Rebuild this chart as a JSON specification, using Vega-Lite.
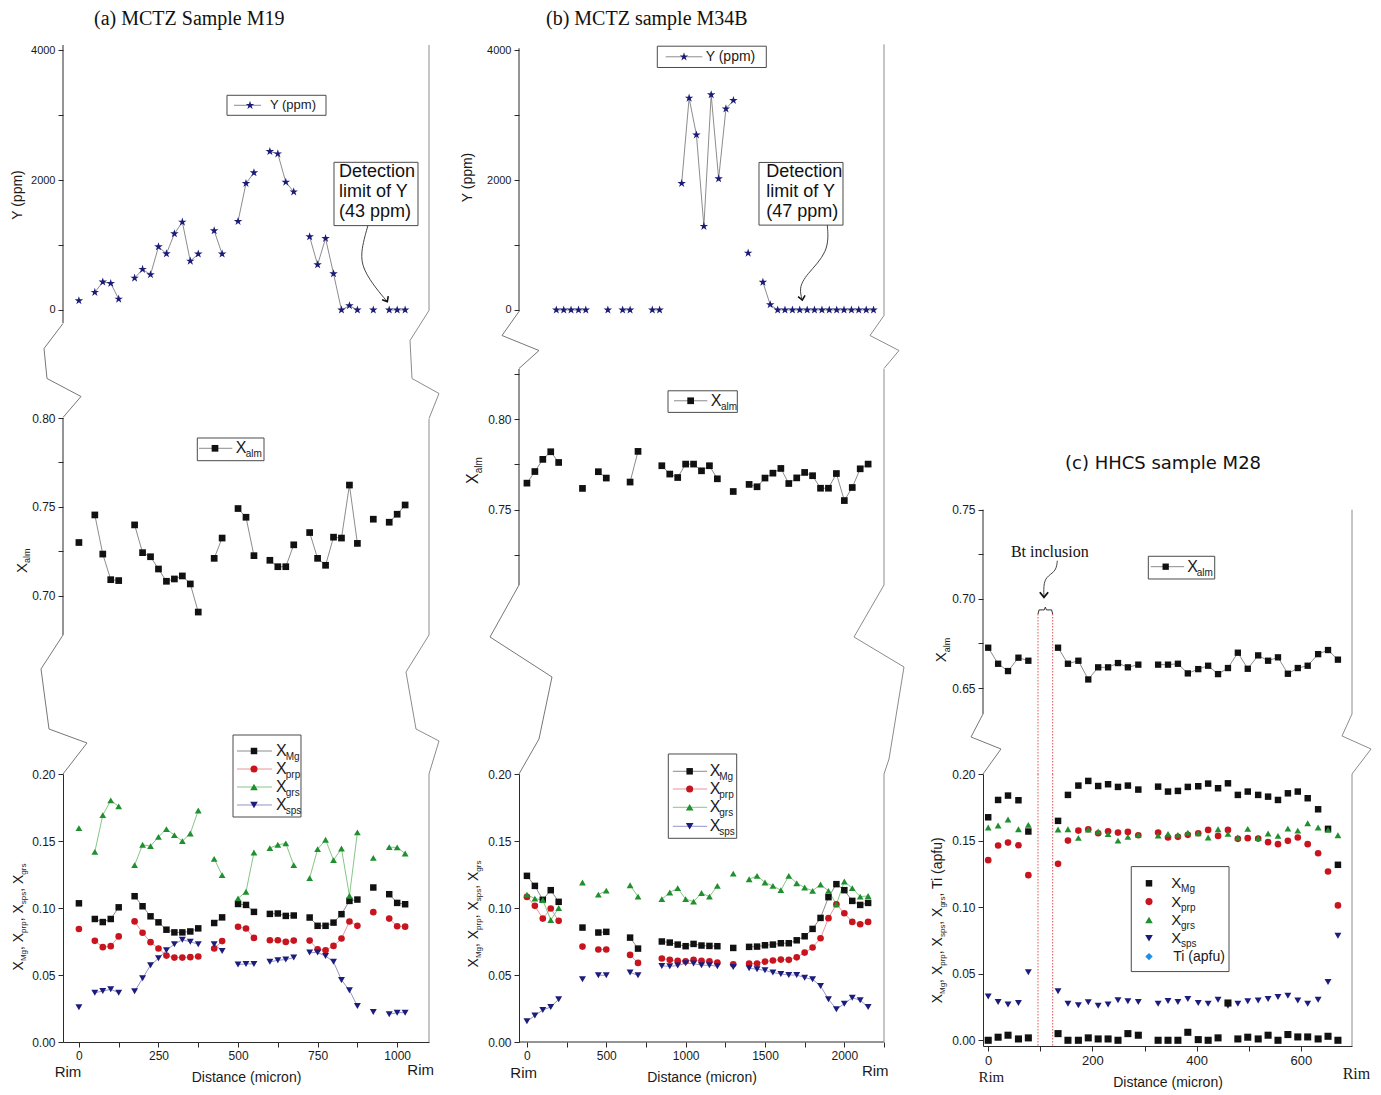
{
"$schema": "https://vega.github.io/schema/vega-lite/v6.json",
"background": "white",
"padding": {"left": 10, "top": 8, "right": 5, "bottom": 5},
"config": {
 "view": {"stroke": null},
 "font": "Liberation Sans",
 "axis": {"grid": false, "domainColor": "#2b2b2b", "tickColor": "#2b2b2b", "domainWidth": 1, "tickWidth": 1, "tickSize": 5, "labelFont": "Liberation Sans", "labelFontSize": 12, "labelColor": "#1a1a1a", "labelPadding": 3, "labelFlush": false, "labelOverlap": false, "titleFont": "Liberation Sans", "titleFontSize": 14, "titleFontWeight": "normal", "titleColor": "#1a1a1a"},
 "title": {"color": "#111111", "fontWeight": "normal"}
},
"datasets": {
 "one": [{}],
 "aY": [{"d":0,"Y":144},{"d":25,"Y":null},{"d":50,"Y":272},{"d":75,"Y":431},{"d":100,"Y":410},{"d":125,"Y":169},{"d":150,"Y":null},{"d":175,"Y":492},{"d":200,"Y":626},{"d":225,"Y":544},{"d":250,"Y":974},{"d":275,"Y":867},{"d":300,"Y":1174},{"d":325,"Y":1354},{"d":350,"Y":754},{"d":375,"Y":862},{"d":400,"Y":null},{"d":425,"Y":1220},{"d":450,"Y":862},{"d":475,"Y":null},{"d":500,"Y":1364},{"d":525,"Y":1949},{"d":550,"Y":2113},{"d":575,"Y":null},{"d":600,"Y":2441},{"d":625,"Y":2405},{"d":650,"Y":1969},{"d":675,"Y":1820},{"d":700,"Y":null},{"d":725,"Y":1128},{"d":750,"Y":697},{"d":775,"Y":1103},{"d":800,"Y":559},{"d":825,"Y":0},{"d":850,"Y":67},{"d":875,"Y":0},{"d":900,"Y":null},{"d":925,"Y":0},{"d":950,"Y":null},{"d":975,"Y":0},{"d":1000,"Y":0},{"d":1025,"Y":0}],
 "aX": [
  {"d":0,"alm":0.730,"Mg":0.1035,"prp":0.0843,"grs":0.1596,"sps":0.0260},
  {"d":25,"alm":null,"Mg":null,"prp":null,"grs":null,"sps":null},
  {"d":50,"alm":0.7455,"Mg":0.0918,"prp":0.0755,"grs":0.1419,"sps":0.0368},
  {"d":75,"alm":0.7235,"Mg":0.0895,"prp":0.0708,"grs":0.1693,"sps":0.0380},
  {"d":100,"alm":0.7091,"Mg":0.0918,"prp":0.0715,"grs":0.1803,"sps":0.0393},
  {"d":125,"alm":0.7086,"Mg":0.1005,"prp":0.0788,"grs":0.1758,"sps":0.0368},
  {"d":150,"alm":null,"Mg":null,"prp":null,"grs":null,"sps":null},
  {"d":175,"alm":0.7399,"Mg":0.1088,"prp":0.0900,"grs":0.1320,"sps":0.0378},
  {"d":200,"alm":0.7243,"Mg":0.1013,"prp":0.0815,"grs":0.1472,"sps":0.0475},
  {"d":225,"alm":0.7220,"Mg":0.0938,"prp":0.0745,"grs":0.1462,"sps":0.0573},
  {"d":250,"alm":0.7151,"Mg":0.0893,"prp":0.0698,"grs":0.1531,"sps":0.0625},
  {"d":275,"alm":0.7082,"Mg":0.0838,"prp":0.0645,"grs":0.1589,"sps":0.0685},
  {"d":300,"alm":0.7095,"Mg":0.0818,"prp":0.0630,"grs":0.1544,"sps":0.0730},
  {"d":325,"alm":0.7112,"Mg":0.0818,"prp":0.0630,"grs":0.1499,"sps":0.0763},
  {"d":350,"alm":0.7067,"Mg":0.0825,"prp":0.0633,"grs":0.1556,"sps":0.0748},
  {"d":375,"alm":0.6909,"Mg":0.0848,"prp":0.0638,"grs":0.1728,"sps":0.0730},
  {"d":400,"alm":null,"Mg":null,"prp":null,"grs":null,"sps":null},
  {"d":425,"alm":0.7211,"Mg":0.0888,"prp":0.0698,"grs":0.1367,"sps":0.0730},
  {"d":450,"alm":0.7325,"Mg":0.0930,"prp":0.0753,"grs":0.1245,"sps":0.0680},
  {"d":475,"alm":null,"Mg":null,"prp":null,"grs":null,"sps":null},
  {"d":500,"alm":0.7491,"Mg":0.1030,"prp":0.0860,"grs":0.1072,"sps":0.0578},
  {"d":525,"alm":0.7442,"Mg":0.1023,"prp":0.0847,"grs":0.1121,"sps":0.0583},
  {"d":550,"alm":0.7226,"Mg":0.0971,"prp":0.0777,"grs":0.1414,"sps":0.0583},
  {"d":575,"alm":null,"Mg":null,"prp":null,"grs":null,"sps":null},
  {"d":600,"alm":0.7200,"Mg":0.0956,"prp":0.0759,"grs":0.1447,"sps":0.0598},
  {"d":625,"alm":0.7164,"Mg":0.0959,"prp":0.0759,"grs":0.1472,"sps":0.0610},
  {"d":650,"alm":0.7164,"Mg":0.0941,"prp":0.0747,"grs":0.1482,"sps":0.0615},
  {"d":675,"alm":0.7287,"Mg":0.0944,"prp":0.0757,"grs":0.1320,"sps":0.0630},
  {"d":700,"alm":null,"Mg":null,"prp":null,"grs":null,"sps":null},
  {"d":725,"alm":0.7356,"Mg":0.0929,"prp":0.0757,"grs":0.1223,"sps":0.0667},
  {"d":750,"alm":0.7211,"Mg":0.0867,"prp":0.0692,"grs":0.1439,"sps":0.0667},
  {"d":775,"alm":0.7172,"Mg":0.0867,"prp":0.0685,"grs":0.1509,"sps":0.0642},
  {"d":800,"alm":0.7330,"Mg":0.0891,"prp":0.0717,"grs":0.1357,"sps":0.0598},
  {"d":825,"alm":0.7325,"Mg":0.0954,"prp":0.0772,"grs":0.1444,"sps":0.0463},
  {"d":850,"alm":0.7623,"Mg":0.1053,"prp":0.0899,"grs":0.1091,"sps":0.0386},
  {"d":875,"alm":0.7295,"Mg":0.1063,"prp":0.0867,"grs":0.1564,"sps":0.0269},
  {"d":900,"alm":null,"Mg":null,"prp":null,"grs":null,"sps":null},
  {"d":925,"alm":0.7431,"Mg":0.1153,"prp":0.0969,"grs":0.1374,"sps":0.0224},
  {"d":950,"alm":null,"Mg":null,"prp":null,"grs":null,"sps":null},
  {"d":975,"alm":0.7414,"Mg":0.1103,"prp":0.0921,"grs":0.1454,"sps":0.0207},
  {"d":1000,"alm":0.7459,"Mg":0.1038,"prp":0.0864,"grs":0.1452,"sps":0.0219},
  {"d":1025,"alm":0.7511,"Mg":0.1028,"prp":0.0861,"grs":0.1407,"sps":0.0219}
 ],
 "bY": [{"d":185,"Y":0},{"d":232,"Y":0},{"d":278,"Y":0},{"d":325,"Y":0},{"d":371,"Y":0},{"d":417,"Y":null},{"d":464,"Y":null},{"d":510,"Y":0},{"d":557,"Y":null},{"d":603,"Y":0},{"d":650,"Y":0},{"d":696,"Y":null},{"d":743,"Y":null},{"d":790,"Y":0},{"d":836,"Y":0},{"d":882,"Y":null},{"d":929,"Y":null},{"d":975,"Y":1949},{"d":1022,"Y":3263},{"d":1068,"Y":2696},{"d":1115,"Y":1289},{"d":1161,"Y":3315},{"d":1208,"Y":2021},{"d":1254,"Y":3098},{"d":1301,"Y":3227},{"d":1347,"Y":null},{"d":1394,"Y":876},{"d":1440,"Y":null},{"d":1487,"Y":428},{"d":1533,"Y":82},{"d":1580,"Y":0},{"d":1626,"Y":0},{"d":1673,"Y":0},{"d":1719,"Y":0},{"d":1766,"Y":0},{"d":1812,"Y":0},{"d":1859,"Y":0},{"d":1905,"Y":0},{"d":1952,"Y":0},{"d":1998,"Y":0},{"d":2045,"Y":0},{"d":2091,"Y":0},{"d":2138,"Y":0},{"d":2184,"Y":0}],
 "bX": [
  {"d":0,"alm":0.7647,"Mg":0.1240,"prp":0.1083,"grs":0.1100,"sps":0.0154},
  {"d":50,"alm":0.7711,"Mg":0.1165,"prp":0.1016,"grs":0.1070,"sps":0.0197},
  {"d":100,"alm":0.7778,"Mg":0.1061,"prp":0.0921,"grs":0.1060,"sps":0.0239},
  {"d":150,"alm":0.7820,"Mg":0.1133,"prp":0.0996,"grs":0.0910,"sps":0.0261},
  {"d":200,"alm":0.7761,"Mg":0.1046,"prp":0.0904,"grs":0.1000,"sps":0.0319},
  {"d":250,"alm":null,"Mg":null,"prp":null,"grs":null,"sps":null},
  {"d":300,"alm":null,"Mg":null,"prp":null,"grs":null,"sps":null},
  {"d":350,"alm":0.7618,"Mg":0.0854,"prp":0.0712,"grs":0.1190,"sps":0.0468},
  {"d":400,"alm":null,"Mg":null,"prp":null,"grs":null,"sps":null},
  {"d":450,"alm":0.7710,"Mg":0.0817,"prp":0.0690,"grs":0.1100,"sps":0.0498},
  {"d":500,"alm":0.7675,"Mg":0.0822,"prp":0.0690,"grs":0.1130,"sps":0.0498},
  {"d":550,"alm":null,"Mg":null,"prp":null,"grs":null,"sps":null},
  {"d":600,"alm":null,"Mg":null,"prp":null,"grs":null,"sps":null},
  {"d":650,"alm":0.7653,"Mg":0.0779,"prp":0.0650,"grs":0.1170,"sps":0.0518},
  {"d":700,"alm":0.7822,"Mg":0.0697,"prp":0.0590,"grs":0.1085,"sps":0.0498},
  {"d":750,"alm":null,"Mg":null,"prp":null,"grs":null,"sps":null},
  {"d":800,"alm":null,"Mg":null,"prp":null,"grs":null,"sps":null},
  {"d":850,"alm":0.7743,"Mg":0.0750,"prp":0.0623,"grs":0.1066,"sps":0.0568},
  {"d":900,"alm":0.7697,"Mg":0.0742,"prp":0.0613,"grs":0.1116,"sps":0.0565},
  {"d":950,"alm":0.7678,"Mg":0.0727,"prp":0.0605,"grs":0.1148,"sps":0.0570},
  {"d":1000,"alm":0.7752,"Mg":0.0715,"prp":0.0603,"grs":0.1066,"sps":0.0588},
  {"d":1050,"alm":0.7752,"Mg":0.0732,"prp":0.0613,"grs":0.1048,"sps":0.0585},
  {"d":1100,"alm":0.7715,"Mg":0.0720,"prp":0.0605,"grs":0.1112,"sps":0.0573},
  {"d":1150,"alm":0.7743,"Mg":0.0717,"prp":0.0603,"grs":0.1085,"sps":0.0573},
  {"d":1200,"alm":0.7671,"Mg":0.0715,"prp":0.0593,"grs":0.1165,"sps":0.0565},
  {"d":1250,"alm":null,"Mg":null,"prp":null,"grs":null,"sps":null},
  {"d":1300,"alm":0.7601,"Mg":0.0702,"prp":0.0580,"grs":0.1257,"sps":0.0560},
  {"d":1350,"alm":null,"Mg":null,"prp":null,"grs":null,"sps":null},
  {"d":1400,"alm":0.7640,"Mg":0.0710,"prp":0.0585,"grs":0.1215,"sps":0.0550},
  {"d":1450,"alm":0.7627,"Mg":0.0712,"prp":0.0585,"grs":0.1240,"sps":0.0543},
  {"d":1500,"alm":0.7675,"Mg":0.0722,"prp":0.0600,"grs":0.1190,"sps":0.0535},
  {"d":1550,"alm":0.7702,"Mg":0.0727,"prp":0.0608,"grs":0.1165,"sps":0.0518},
  {"d":1600,"alm":0.7728,"Mg":0.0737,"prp":0.0615,"grs":0.1133,"sps":0.0508},
  {"d":1650,"alm":0.7645,"Mg":0.0737,"prp":0.0613,"grs":0.1240,"sps":0.0500},
  {"d":1700,"alm":0.7676,"Mg":0.0759,"prp":0.0632,"grs":0.1185,"sps":0.0500},
  {"d":1750,"alm":0.7706,"Mg":0.0789,"prp":0.0667,"grs":0.1153,"sps":0.0480},
  {"d":1800,"alm":0.7688,"Mg":0.0844,"prp":0.0705,"grs":0.1128,"sps":0.0468},
  {"d":1850,"alm":0.7619,"Mg":0.0926,"prp":0.0774,"grs":0.1175,"sps":0.0418},
  {"d":1900,"alm":0.7619,"Mg":0.1081,"prp":0.0924,"grs":0.1128,"sps":0.0319},
  {"d":1950,"alm":0.7700,"Mg":0.1178,"prp":0.1028,"grs":0.1028,"sps":0.0244},
  {"d":2000,"alm":0.7551,"Mg":0.1133,"prp":0.0961,"grs":0.1198,"sps":0.0286},
  {"d":2050,"alm":0.7623,"Mg":0.1053,"prp":0.0896,"grs":0.1148,"sps":0.0331},
  {"d":2100,"alm":0.7726,"Mg":0.1023,"prp":0.0879,"grs":0.1085,"sps":0.0311},
  {"d":2150,"alm":0.7752,"Mg":0.1038,"prp":0.0896,"grs":0.1090,"sps":0.0261}
 ],
 "cX": [
  {"d":0,"alm":0.6726,"Mg":0.1675,"prp":0.1353,"grs":0.1598,"sps":0.0328,"Ti":0.0000},
  {"d":19,"alm":0.6636,"Mg":0.1805,"prp":0.1463,"grs":0.1613,"sps":0.0288,"Ti":0.0023},
  {"d":38,"alm":0.6595,"Mg":0.1838,"prp":0.1485,"grs":0.1658,"sps":0.0268,"Ti":0.0038},
  {"d":58,"alm":0.6670,"Mg":0.1803,"prp":0.1465,"grs":0.1585,"sps":0.0280,"Ti":0.0010},
  {"d":77,"alm":0.6653,"Mg":0.1568,"prp":0.1240,"grs":0.1618,"sps":0.0510,"Ti":0.0018},
  {"d":96,"alm":null,"Mg":null,"prp":null,"grs":null,"sps":null,"Ti":null},
  {"d":115,"alm":null,"Mg":null,"prp":null,"grs":null,"sps":null,"Ti":null},
  {"d":134,"alm":0.6726,"Mg":0.1648,"prp":0.1325,"grs":0.1583,"sps":0.0368,"Ti":0.0050},
  {"d":153,"alm":0.6636,"Mg":0.1843,"prp":0.1500,"grs":0.1585,"sps":0.0275,"Ti":0.0000},
  {"d":173,"alm":0.6653,"Mg":0.1913,"prp":0.1575,"grs":0.1520,"sps":0.0263,"Ti":0.0000},
  {"d":192,"alm":0.6548,"Mg":0.1948,"prp":0.1585,"grs":0.1583,"sps":0.0285,"Ti":0.0018},
  {"d":211,"alm":0.6616,"Mg":0.1910,"prp":0.1555,"grs":0.1568,"sps":0.0260,"Ti":0.0010},
  {"d":230,"alm":0.6616,"Mg":0.1923,"prp":0.1570,"grs":0.1548,"sps":0.0268,"Ti":0.0010},
  {"d":249,"alm":0.6640,"Mg":0.1903,"prp":0.1560,"grs":0.1500,"sps":0.0300,"Ti":0.0000},
  {"d":268,"alm":0.6616,"Mg":0.1913,"prp":0.1565,"grs":0.1528,"sps":0.0293,"Ti":0.0050},
  {"d":288,"alm":0.6631,"Mg":0.1883,"prp":0.1540,"grs":0.1543,"sps":0.0288,"Ti":0.0038},
  {"d":307,"alm":null,"Mg":null,"prp":null,"grs":null,"sps":null,"Ti":null},
  {"d":326,"alm":0.6631,"Mg":0.1905,"prp":0.1560,"grs":0.1538,"sps":0.0275,"Ti":0.0000},
  {"d":345,"alm":0.6631,"Mg":0.1868,"prp":0.1523,"grs":0.1550,"sps":0.0295,"Ti":0.0000},
  {"d":364,"alm":0.6636,"Mg":0.1873,"prp":0.1528,"grs":0.1543,"sps":0.0288,"Ti":0.0000},
  {"d":383,"alm":0.6582,"Mg":0.1903,"prp":0.1543,"grs":0.1560,"sps":0.0310,"Ti":0.0060},
  {"d":403,"alm":0.6606,"Mg":0.1908,"prp":0.1555,"grs":0.1555,"sps":0.0280,"Ti":0.0005},
  {"d":422,"alm":0.6625,"Mg":0.1928,"prp":0.1580,"grs":0.1523,"sps":0.0275,"Ti":0.0000},
  {"d":441,"alm":0.6578,"Mg":0.1893,"prp":0.1535,"grs":0.1585,"sps":0.0305,"Ti":0.0018},
  {"d":460,"alm":0.6612,"Mg":0.1930,"prp":0.1580,"grs":0.1550,"sps":0.0260,"Ti":0.0280},
  {"d":479,"alm":0.6698,"Mg":0.1843,"prp":0.1513,"grs":0.1523,"sps":0.0275,"Ti":0.0010},
  {"d":498,"alm":0.6608,"Mg":0.1868,"prp":0.1518,"grs":0.1588,"sps":0.0293,"Ti":0.0023},
  {"d":518,"alm":0.6683,"Mg":0.1843,"prp":0.1515,"grs":0.1518,"sps":0.0298,"Ti":0.0010},
  {"d":537,"alm":0.6653,"Mg":0.1830,"prp":0.1488,"grs":0.1553,"sps":0.0310,"Ti":0.0038},
  {"d":556,"alm":0.6672,"Mg":0.1805,"prp":0.1473,"grs":0.1535,"sps":0.0325,"Ti":0.0000},
  {"d":575,"alm":0.6580,"Mg":0.1855,"prp":0.1498,"grs":0.1590,"sps":0.0335,"Ti":0.0043},
  {"d":594,"alm":0.6612,"Mg":0.1868,"prp":0.1523,"grs":0.1575,"sps":0.0298,"Ti":0.0025},
  {"d":613,"alm":0.6625,"Mg":0.1818,"prp":0.1473,"grs":0.1630,"sps":0.0275,"Ti":0.0025},
  {"d":633,"alm":0.6690,"Mg":0.1735,"prp":0.1405,"grs":0.1598,"sps":0.0305,"Ti":0.0010},
  {"d":652,"alm":0.6713,"Mg":0.1588,"prp":0.1268,"grs":0.1580,"sps":0.0438,"Ti":0.0030},
  {"d":671,"alm":0.6659,"Mg":0.1318,"prp":0.1013,"grs":0.1540,"sps":0.0785,"Ti":0.0000}
 ]
},
"concat": [
 {"width": 366, "height": 283.5,
  "title": {"text": "(a) MCTZ Sample M19", "font": "Liberation Serif", "fontSize": 20, "fontWeight": "normal", "anchor": "start", "frame": "group", "dx": 31, "offset": 15},
  "layer": [
   {"data": {"name": "one"}, "mark": {"type": "rule", "color": "#2b2b2b", "strokeWidth": 1}, "encoding": {"x": {"datum": -50, "axis": null}, "y": {"datum": -200}, "y2": {"datum": 4080}}},
   {"data": {"name": "one"}, "mark": {"type": "rule", "color": "#8c8c8c", "strokeWidth": 1}, "encoding": {"x": {"datum": 1100, "axis": null}, "y": {"datum": -8}, "y2": {"datum": 4080}}},
   {"data": {"values": [{"x": -50, "y": -208, "o": 0}, {"x": -109.7, "y": -593, "o": 1}, {"x": -100.3, "y": -1055, "o": 2}, {"x": 6.6, "y": -1332, "o": 3}, {"x": -50, "y": -1655, "o": 4}]}, "mark": {"type": "line", "color": "#777777", "strokeWidth": 1}, "encoding": {"x": {"field": "x", "type": "quantitative", "axis": null}, "y": {"field": "y", "type": "quantitative", "title": null}, "order": {"field": "o"}}},
   {"data": {"values": [{"x": 1100, "y": -8, "o": 0}, {"x": 1040.3, "y": -470, "o": 1}, {"x": 1046.6, "y": -1055, "o": 2}, {"x": 1131.4, "y": -1286, "o": 3}, {"x": 1100, "y": -1671, "o": 4}]}, "mark": {"type": "line", "color": "#8c8c8c", "strokeWidth": 1}, "encoding": {"x": {"field": "x", "type": "quantitative", "axis": null}, "y": {"field": "y", "type": "quantitative", "title": null}, "order": {"field": "o"}}},
   {"data": {"name": "aY"}, "mark": {"type": "line", "color": "#6e6e6e", "strokeWidth": 0.8, "invalid": "break-paths-filter-domains"},
    "encoding": {"x": {"field": "d", "type": "quantitative", "scale": {"domain": [-50, 1100], "nice": false, "zero": false}, "axis": null},
     "y": {"field": "Y", "type": "quantitative", "title": null, "scale": {"domain": [-285, 4080], "nice": false, "zero": false},
      "axis": {"title": null, "domain": false, "values": [0, 1000, 2000, 3000, 4000], "format": "d", "labelExpr": "datum.value % 2000 === 0 ? datum.label : ''", "labelFontSize": 11}}}},
   {"data": {"name": "aY"}, "mark": {"type": "point", "shape": "M0,-1L0.2245,-0.309L0.951,-0.309L0.363,0.118L0.588,0.809L0,0.382L-0.588,0.809L-0.363,0.118L-0.951,-0.309L-0.2245,-0.309Z", "filled": true, "color": "#1b1b78", "size": 80, "opacity": 1},
    "encoding": {"x": {"field": "d", "type": "quantitative", "axis": null}, "y": {"field": "Y", "type": "quantitative", "title": null}}},
   {"data": {"name": "one"}, "mark": {"type": "text", "text": "Y (ppm)", "angle": 270, "align": "center", "baseline": "alphabetic", "fontSize": 14, "dy": -41.5, "color": "#1a1a1a"}, "encoding": {"x": {"datum": -50, "axis": null}, "y": {"datum": 1770}}},
   {"data": {"name": "one"}, "mark": {"type": "rect", "filled": false, "color": "#4a4a4a", "strokeWidth": 1}, "encoding": {"x": {"datum": 465.3, "axis": null}, "x2": {"datum": 776.4}, "y": {"datum": 3305.6}, "y2": {"datum": 2997.6}}},
   {"data": {"name": "one"}, "mark": {"type": "rule", "color": "#6e6e6e", "strokeWidth": 0.8}, "encoding": {"x": {"datum": 487.3, "axis": null}, "x2": {"datum": 572.1}, "y": {"datum": 3151.6}}},
   {"data": {"name": "one"}, "mark": {"type": "point", "shape": "M0,-1L0.2245,-0.309L0.951,-0.309L0.363,0.118L0.588,0.809L0,0.382L-0.588,0.809L-0.363,0.118L-0.951,-0.309L-0.2245,-0.309Z", "filled": true, "color": "#1b1b78", "size": 80, "opacity": 1}, "encoding": {"x": {"datum": 537.6, "axis": null}, "y": {"datum": 3151.6}}},
   {"data": {"name": "one"}, "mark": {"type": "text", "text": "Y (ppm)", "align": "left", "baseline": "middle", "fontSize": 13, "color": "#1a1a1a"}, "encoding": {"x": {"datum": 600.4, "axis": null}, "y": {"datum": 3151.6}}},
   {"data": {"name": "one"}, "mark": {"type": "rect", "filled": false, "color": "#4a4a4a", "strokeWidth": 1}, "encoding": {"x": {"datum": 801.5, "axis": null}, "x2": {"datum": 1065.4}, "y": {"datum": 2274}, "y2": {"datum": 1299}}},
   {"data": {"name": "one"}, "mark": {"type": "text", "text": "Detection\nlimit of Y\n(43 ppm)", "lineBreak": "\n", "lineHeight": 20, "align": "left", "baseline": "top", "fontSize": 18, "color": "#111111"}, "encoding": {"x": {"datum": 817.2, "axis": null}, "y": {"datum": 2258.6}}},
   {"data": {"values": [{"x": 908, "y": 1299, "o": 0}, {"x": 884, "y": 880, "o": 1}, {"x": 893, "y": 620, "o": 2}, {"x": 935, "y": 320, "o": 3}, {"x": 969, "y": 129, "o": 4}]}, "mark": {"type": "line", "interpolate": "basis", "color": "#444444", "strokeWidth": 1}, "encoding": {"x": {"field": "x", "type": "quantitative", "axis": null}, "y": {"field": "y", "type": "quantitative", "title": null}, "order": {"field": "o"}}},
   {"data": {"name": "one"}, "mark": {"type": "point", "shape": "M-1,-1.2L0,0L1,-1.2", "filled": false, "color": "#111111", "strokeWidth": 1.6, "size": 50, "angle": -30, "opacity": 1}, "encoding": {"x": {"datum": 969, "axis": null}, "y": {"datum": 129}}}
  ]},
 {"width": 374, "height": 283.5,
  "title": {"text": "(b) MCTZ sample M34B", "font": "Liberation Serif", "fontSize": 20, "fontWeight": "normal", "anchor": "start", "frame": "group", "dx": 27, "offset": 15},
  "layer": [
   {"data": {"name": "one"}, "mark": {"type": "rule", "color": "#2b2b2b", "strokeWidth": 1}, "encoding": {"x": {"datum": -50, "axis": null}, "y": {"datum": -23}, "y2": {"datum": 4030}}},
   {"data": {"name": "one"}, "mark": {"type": "rule", "color": "#8c8c8c", "strokeWidth": 1}, "encoding": {"x": {"datum": 2250, "axis": null}, "y": {"datum": -85}, "y2": {"datum": 4090}}},
   {"data": {"values": [{"x": -50, "y": -23, "o": 0}, {"x": -157.1, "y": -393, "o": 1}, {"x": 76, "y": -624, "o": 2}, {"x": -50, "y": -901, "o": 3}]}, "mark": {"type": "line", "color": "#777777", "strokeWidth": 1}, "encoding": {"x": {"field": "x", "type": "quantitative", "axis": null}, "y": {"field": "y", "type": "quantitative", "title": null}, "order": {"field": "o"}}},
   {"data": {"values": [{"x": 2250, "y": -85, "o": 0}, {"x": 2161.8, "y": -393, "o": 1}, {"x": 2344.5, "y": -624, "o": 2}, {"x": 2250, "y": -901, "o": 3}]}, "mark": {"type": "line", "color": "#8c8c8c", "strokeWidth": 1}, "encoding": {"x": {"field": "x", "type": "quantitative", "axis": null}, "y": {"field": "y", "type": "quantitative", "title": null}, "order": {"field": "o"}}},
   {"data": {"name": "bY"}, "mark": {"type": "line", "color": "#6e6e6e", "strokeWidth": 0.8, "invalid": "break-paths-filter-domains"},
    "encoding": {"x": {"field": "d", "type": "quantitative", "scale": {"domain": [-50, 2306.7], "nice": false, "zero": false}, "axis": null},
     "y": {"field": "Y", "type": "quantitative", "title": null, "scale": {"domain": [-285, 4080], "nice": false, "zero": false},
      "axis": {"title": null, "domain": false, "values": [0, 1000, 2000, 3000, 4000], "format": "d", "labelExpr": "datum.value % 2000 === 0 ? datum.label : ''", "labelFontSize": 11}}}},
   {"data": {"name": "bY"}, "mark": {"type": "point", "shape": "M0,-1L0.2245,-0.309L0.951,-0.309L0.363,0.118L0.588,0.809L0,0.382L-0.588,0.809L-0.363,0.118L-0.951,-0.309L-0.2245,-0.309Z", "filled": true, "color": "#1b1b78", "size": 80, "opacity": 1},
    "encoding": {"x": {"field": "d", "type": "quantitative", "axis": null}, "y": {"field": "Y", "type": "quantitative", "title": null}}},
   {"data": {"name": "one"}, "mark": {"type": "text", "text": "Y (ppm)", "angle": 270, "align": "center", "baseline": "alphabetic", "fontSize": 14, "dy": -47, "color": "#1a1a1a"}, "encoding": {"x": {"datum": -50, "axis": null}, "y": {"datum": 2040}}},
   {"data": {"name": "one"}, "mark": {"type": "rect", "filled": false, "color": "#4a4a4a", "strokeWidth": 1}, "encoding": {"x": {"datum": 821.5, "axis": null}, "x2": {"datum": 1508.3}, "y": {"datum": 4061.5}, "y2": {"datum": 3733.7}}},
   {"data": {"name": "one"}, "mark": {"type": "rule", "color": "#6e6e6e", "strokeWidth": 0.8}, "encoding": {"x": {"datum": 874.4, "axis": null}, "x2": {"datum": 1105}, "y": {"datum": 3898.4}}},
   {"data": {"name": "one"}, "mark": {"type": "point", "shape": "M0,-1L0.2245,-0.309L0.951,-0.309L0.363,0.118L0.588,0.809L0,0.382L-0.588,0.809L-0.363,0.118L-0.951,-0.309L-0.2245,-0.309Z", "filled": true, "color": "#1b1b78", "size": 80, "opacity": 1}, "encoding": {"x": {"datum": 989.7, "axis": null}, "y": {"datum": 3898.4}}},
   {"data": {"name": "one"}, "mark": {"type": "text", "text": "Y (ppm)", "align": "left", "baseline": "middle", "fontSize": 14, "color": "#1a1a1a"}, "encoding": {"x": {"datum": 1126.5, "axis": null}, "y": {"datum": 3898.4}}},
   {"data": {"name": "one"}, "mark": {"type": "rect", "filled": false, "color": "#4a4a4a", "strokeWidth": 1}, "encoding": {"x": {"datum": 1462.3, "axis": null}, "x2": {"datum": 1991.6}, "y": {"datum": 2271.6}, "y2": {"datum": 1306.7}}},
   {"data": {"name": "one"}, "mark": {"type": "text", "text": "Detection\nlimit of Y\n(47 ppm)", "lineBreak": "\n", "lineHeight": 20, "align": "left", "baseline": "top", "fontSize": 18, "color": "#111111"}, "encoding": {"x": {"datum": 1508.3, "axis": null}, "y": {"datum": 2256}}},
   {"data": {"values": [{"x": 1892.7, "y": 1307, "o": 0}, {"x": 1905, "y": 897, "o": 1}, {"x": 1756.6, "y": 537, "o": 2}, {"x": 1714.4, "y": 333, "o": 3}, {"x": 1735.2, "y": 152, "o": 4}]}, "mark": {"type": "line", "interpolate": "basis", "color": "#444444", "strokeWidth": 1}, "encoding": {"x": {"field": "x", "type": "quantitative", "axis": null}, "y": {"field": "y", "type": "quantitative", "title": null}, "order": {"field": "o"}}},
   {"data": {"name": "one"}, "mark": {"type": "point", "shape": "M-1,-1.2L0,0L1,-1.2", "filled": false, "color": "#111111", "strokeWidth": 1.6, "size": 50, "angle": -10, "opacity": 1}, "encoding": {"x": {"datum": 1735.2, "axis": null}, "y": {"datum": 152}}}
  ]},
 {"width": 369, "height": 283.5, "data": {"name": "one"}, "mark": {"type": "text", "text": ""}, "encoding": {}},
 {"width": 366, "height": 365,
  "layer": [
   {"data": {"name": "one"}, "mark": {"type": "rule", "color": "#2b2b2b", "strokeWidth": 1}, "encoding": {"x": {"datum": -50, "axis": null}, "y": {"datum": 0.678}, "y2": {"datum": 0.8}}},
   {"data": {"name": "one"}, "mark": {"type": "rule", "color": "#8c8c8c", "strokeWidth": 1}, "encoding": {"x": {"datum": 1100, "axis": null}, "y": {"datum": 0.678}, "y2": {"datum": 0.7994}}},
   {"data": {"values": [{"x": -50, "y": 0.678, "o": 0}, {"x": -119.1, "y": 0.65889, "o": 1}, {"x": -94, "y": 0.62515, "o": 2}, {"x": 25.4, "y": 0.61728, "o": 3}, {"x": -50, "y": 0.59985, "o": 4}]}, "mark": {"type": "line", "color": "#777777", "strokeWidth": 1}, "encoding": {"x": {"field": "x", "type": "quantitative", "axis": null}, "y": {"field": "y", "type": "quantitative", "title": null}, "order": {"field": "o"}}},
   {"data": {"values": [{"x": 1100, "y": 0.678, "o": 0}, {"x": 1027.7, "y": 0.6572, "o": 1}, {"x": 1059.2, "y": 0.62515, "o": 2}, {"x": 1131.4, "y": 0.61841, "o": 3}, {"x": 1100, "y": 0.59985, "o": 4}]}, "mark": {"type": "line", "color": "#8c8c8c", "strokeWidth": 1}, "encoding": {"x": {"field": "x", "type": "quantitative", "axis": null}, "y": {"field": "y", "type": "quantitative", "title": null}, "order": {"field": "o"}}},
   {"data": {"name": "aX"}, "mark": {"type": "line", "color": "#6e6e6e", "strokeWidth": 0.8, "invalid": "break-paths-filter-domains"},
    "encoding": {"x": {"field": "d", "type": "quantitative", "scale": {"domain": [-50, 1100], "nice": false, "zero": false}, "axis": null},
     "y": {"field": "alm", "type": "quantitative", "scale": {"domain": [0.62234, 0.82755], "nice": false, "zero": false},
      "axis": {"title": null, "domain": false, "values": [0.7, 0.725, 0.75, 0.775, 0.8], "format": ".2f", "labelExpr": "abs(datum.value*20 - round(datum.value*20)) < 0.001 ? datum.label : ''"}}}},
   {"data": {"name": "aX"}, "mark": {"type": "point", "shape": "square", "filled": true, "color": "#111111", "size": 45, "opacity": 1}, "encoding": {"x": {"field": "d", "type": "quantitative", "axis": null}, "y": {"field": "alm", "type": "quantitative"}}},
   {"data": {"name": "one"}, "mark": {"type": "rect", "filled": false, "color": "#4a4a4a", "strokeWidth": 1}, "encoding": {"x": {"datum": 372, "axis": null}, "x2": {"datum": 581.6}, "y": {"datum": 0.78876}, "y2": {"datum": 0.776}}},
   {"data": {"name": "one"}, "mark": {"type": "rule", "color": "#6e6e6e", "strokeWidth": 0.8}, "encoding": {"x": {"datum": 377.3, "axis": null}, "x2": {"datum": 482}, "y": {"datum": 0.78296}}},
   {"data": {"name": "one"}, "mark": {"type": "point", "shape": "square", "filled": true, "color": "#111111", "size": 45, "opacity": 1}, "encoding": {"x": {"datum": 427.6, "axis": null}, "y": {"datum": 0.78296}}},
   {"data": {"name": "one"}, "mark": {"type": "text", "text": "X", "align": "left", "baseline": "middle", "fontSize": 16, "color": "#1a1a1a"}, "encoding": {"x": {"datum": 492.6, "axis": null}, "y": {"datum": 0.78296}}},
   {"data": {"name": "one"}, "mark": {"type": "text", "text": "alm", "align": "left", "baseline": "middle", "fontSize": 10, "dy": 6, "color": "#1a1a1a"}, "encoding": {"x": {"datum": 524, "axis": null}, "y": {"datum": 0.78296}}},
   {"data": {"name": "one"}, "mark": {"type": "text", "text": "X", "angle": 270, "align": "left", "baseline": "alphabetic", "fontSize": 15, "dy": -35.7, "color": "#1a1a1a"}, "encoding": {"x": {"datum": -50, "axis": null}, "y": {"datum": 0.71286}}},
   {"data": {"name": "one"}, "mark": {"type": "text", "text": "alm", "angle": 270, "align": "left", "baseline": "alphabetic", "fontSize": 9, "dx": 10, "dy": -32.7, "color": "#1a1a1a"}, "encoding": {"x": {"datum": -50, "axis": null}, "y": {"datum": 0.71286}}}
  ]},
 {"width": 374, "height": 365,
  "layer": [
   {"data": {"name": "one"}, "mark": {"type": "rule", "color": "#2b2b2b", "strokeWidth": 1}, "encoding": {"x": {"datum": -50, "axis": null}, "y": {"datum": 0.70856}, "y2": {"datum": 0.8276}}},
   {"data": {"name": "one"}, "mark": {"type": "rule", "color": "#8c8c8c", "strokeWidth": 1}, "encoding": {"x": {"datum": 2250, "axis": null}, "y": {"datum": 0.70856}, "y2": {"datum": 0.8276}}},
   {"data": {"values": [{"x": -50, "y": 0.70856, "o": 0}, {"x": -232.7, "y": 0.6799, "o": 1}, {"x": 157.9, "y": 0.65786, "o": 2}, {"x": 76, "y": 0.62368, "o": 3}, {"x": -50, "y": 0.6044, "o": 4}]}, "mark": {"type": "line", "color": "#777777", "strokeWidth": 1}, "encoding": {"x": {"field": "x", "type": "quantitative", "axis": null}, "y": {"field": "y", "type": "quantitative", "title": null}, "order": {"field": "o"}}},
   {"data": {"values": [{"x": 2250, "y": 0.70856, "o": 0}, {"x": 2060.9, "y": 0.6799, "o": 1}, {"x": 2376, "y": 0.66337, "o": 2}, {"x": 2281.5, "y": 0.61266, "o": 3}, {"x": 2250, "y": 0.6044, "o": 4}]}, "mark": {"type": "line", "color": "#8c8c8c", "strokeWidth": 1}, "encoding": {"x": {"field": "x", "type": "quantitative", "axis": null}, "y": {"field": "y", "type": "quantitative", "title": null}, "order": {"field": "o"}}},
   {"data": {"name": "bX"}, "mark": {"type": "line", "color": "#6e6e6e", "strokeWidth": 0.8, "invalid": "break-paths-filter-domains"},
    "encoding": {"x": {"field": "d", "type": "quantitative", "scale": {"domain": [-50, 2306.7], "nice": false, "zero": false}, "axis": null},
     "y": {"field": "alm", "type": "quantitative", "scale": {"domain": [0.62644, 0.82761], "nice": false, "zero": false},
      "axis": {"title": null, "domain": false, "values": [0.725, 0.75, 0.775, 0.8, 0.825], "format": ".2f", "labelExpr": "abs(datum.value*20 - round(datum.value*20)) < 0.001 ? datum.label : ''"}}}},
   {"data": {"name": "bX"}, "mark": {"type": "point", "shape": "square", "filled": true, "color": "#111111", "size": 45, "opacity": 1}, "encoding": {"x": {"field": "d", "type": "quantitative", "axis": null}, "y": {"field": "alm", "type": "quantitative"}}},
   {"data": {"name": "one"}, "mark": {"type": "rect", "filled": false, "color": "#4a4a4a", "strokeWidth": 1}, "encoding": {"x": {"datum": 888.9, "axis": null}, "x2": {"datum": 1325.6}, "y": {"datum": 0.8156}, "y2": {"datum": 0.8037}}},
   {"data": {"name": "one"}, "mark": {"type": "rule", "color": "#6e6e6e", "strokeWidth": 0.8}, "encoding": {"x": {"datum": 926.7, "axis": null}, "x2": {"datum": 1136.6}, "y": {"datum": 0.8101}}},
   {"data": {"name": "one"}, "mark": {"type": "point", "shape": "square", "filled": true, "color": "#111111", "size": 45, "opacity": 1}, "encoding": {"x": {"datum": 1031.7, "axis": null}, "y": {"datum": 0.8101}}},
   {"data": {"name": "one"}, "mark": {"type": "text", "text": "X", "align": "left", "baseline": "middle", "fontSize": 16, "color": "#1a1a1a"}, "encoding": {"x": {"datum": 1158, "axis": null}, "y": {"datum": 0.8101}}},
   {"data": {"name": "one"}, "mark": {"type": "text", "text": "alm", "align": "left", "baseline": "middle", "fontSize": 10, "dy": 6, "color": "#1a1a1a"}, "encoding": {"x": {"datum": 1223, "axis": null}, "y": {"datum": 0.8101}}},
   {"data": {"name": "one"}, "mark": {"type": "text", "text": "X", "angle": 270, "align": "left", "baseline": "alphabetic", "fontSize": 16, "dy": -41, "color": "#1a1a1a"}, "encoding": {"x": {"datum": -50, "axis": null}, "y": {"datum": 0.76422}}},
   {"data": {"name": "one"}, "mark": {"type": "text", "text": "alm", "angle": 270, "align": "left", "baseline": "alphabetic", "fontSize": 10, "dx": 10.7, "dy": -37.5, "color": "#1a1a1a"}, "encoding": {"x": {"datum": -50, "axis": null}, "y": {"datum": 0.76422}}}
  ]},
 {"width": 369, "height": 365,
  "layer": [
   {"data": {"name": "one"}, "mark": {"type": "rule", "color": "#2b2b2b", "strokeWidth": 1}, "encoding": {"x": {"datum": -10, "axis": null}, "y": {"datum": 0.63543}, "y2": {"datum": 0.75}}},
   {"data": {"name": "one"}, "mark": {"type": "rule", "color": "#8c8c8c", "strokeWidth": 1}, "encoding": {"x": {"datum": 698, "axis": null}, "y": {"datum": 0.63543}, "y2": {"datum": 0.75}}},
   {"data": {"values": [{"x": -10, "y": 0.63543, "o": 0}, {"x": -33, "y": 0.62253, "o": 1}, {"x": 24.5, "y": 0.6158, "o": 2}, {"x": -10, "y": 0.60178, "o": 3}]}, "mark": {"type": "line", "color": "#777777", "strokeWidth": 1}, "encoding": {"x": {"field": "x", "type": "quantitative", "axis": null}, "y": {"field": "y", "type": "quantitative", "title": null}, "order": {"field": "o"}}},
   {"data": {"values": [{"x": 698, "y": 0.63543, "o": 0}, {"x": 678.8, "y": 0.62309, "o": 1}, {"x": 734.5, "y": 0.6158, "o": 2}, {"x": 698, "y": 0.60178, "o": 3}]}, "mark": {"type": "line", "color": "#8c8c8c", "strokeWidth": 1}, "encoding": {"x": {"field": "x", "type": "quantitative", "axis": null}, "y": {"field": "y", "type": "quantitative", "title": null}, "order": {"field": "o"}}},
   {"data": {"name": "one"}, "mark": {"type": "rule", "color": "#e05555", "strokeWidth": 1, "strokeDash": [1.5, 1.5]}, "encoding": {"x": {"datum": 95.5, "axis": null}, "y": {"datum": 0.6915}, "y2": {"datum": 0.6016}}},
   {"data": {"name": "one"}, "mark": {"type": "rule", "color": "#e05555", "strokeWidth": 1, "strokeDash": [1.5, 1.5]}, "encoding": {"x": {"datum": 123.7, "axis": null}, "y": {"datum": 0.6915}, "y2": {"datum": 0.6016}}},
   {"data": {"name": "cX"}, "mark": {"type": "line", "color": "#6e6e6e", "strokeWidth": 0.8, "invalid": "break-paths-filter-domains"},
    "encoding": {"x": {"field": "d", "type": "quantitative", "scale": {"domain": [-10, 698], "nice": false, "zero": false}, "axis": null},
     "y": {"field": "alm", "type": "quantitative", "scale": {"domain": [0.62421, 0.8289], "nice": false, "zero": false},
      "axis": {"title": null, "domain": false, "values": [0.65, 0.675, 0.7, 0.725, 0.75], "format": ".2f", "labelExpr": "abs(datum.value*20 - round(datum.value*20)) < 0.001 ? datum.label : ''"}}}},
   {"data": {"name": "cX"}, "mark": {"type": "point", "shape": "square", "filled": true, "color": "#111111", "size": 40, "opacity": 1}, "encoding": {"x": {"field": "d", "type": "quantitative", "axis": null}, "y": {"field": "alm", "type": "quantitative"}}},
   {"data": {"name": "one"}, "mark": {"type": "text", "text": "(c) HHCS sample M28", "align": "center", "baseline": "middle", "font": "DejaVu Sans", "fontSize": 18, "color": "#111111"}, "encoding": {"x": {"datum": 335.4, "axis": null}, "y": {"datum": 0.77563}}},
   {"data": {"name": "one"}, "mark": {"type": "rect", "filled": false, "color": "#4a4a4a", "strokeWidth": 1}, "encoding": {"x": {"datum": 307.2, "axis": null}, "x2": {"datum": 434.6}, "y": {"datum": 0.72387}, "y2": {"datum": 0.71114}}},
   {"data": {"name": "one"}, "mark": {"type": "rule", "color": "#6e6e6e", "strokeWidth": 0.8}, "encoding": {"x": {"datum": 311.8, "axis": null}, "x2": {"datum": 375.7}, "y": {"datum": 0.71804}}},
   {"data": {"name": "one"}, "mark": {"type": "point", "shape": "square", "filled": true, "color": "#111111", "size": 40, "opacity": 1}, "encoding": {"x": {"datum": 340.5, "axis": null}, "y": {"datum": 0.71804}}},
   {"data": {"name": "one"}, "mark": {"type": "text", "text": "X", "align": "left", "baseline": "middle", "fontSize": 16, "color": "#1a1a1a"}, "encoding": {"x": {"datum": 382, "axis": null}, "y": {"datum": 0.71804}}},
   {"data": {"name": "one"}, "mark": {"type": "text", "text": "alm", "align": "left", "baseline": "middle", "fontSize": 10, "dy": 6, "color": "#1a1a1a"}, "encoding": {"x": {"datum": 400, "axis": null}, "y": {"datum": 0.71804}}},
   {"data": {"name": "one"}, "mark": {"type": "text", "text": "X", "angle": 270, "align": "left", "baseline": "alphabetic", "fontSize": 15, "dy": -37, "color": "#1a1a1a"}, "encoding": {"x": {"datum": -10, "axis": null}, "y": {"datum": 0.66442}}},
   {"data": {"name": "one"}, "mark": {"type": "text", "text": "alm", "angle": 270, "align": "left", "baseline": "alphabetic", "fontSize": 9, "dx": 10, "dy": -33.5, "color": "#1a1a1a"}, "encoding": {"x": {"datum": -10, "axis": null}, "y": {"datum": 0.66442}}},
   {"data": {"name": "one"}, "mark": {"type": "text", "text": "Bt inclusion", "align": "center", "baseline": "middle", "font": "Liberation Serif", "fontSize": 16, "color": "#111111"}, "encoding": {"x": {"datum": 118.2, "axis": null}, "y": {"datum": 0.72628}}},
   {"data": {"values": [{"x": 132.6, "y": 0.7214, "o": 0}, {"x": 130.5, "y": 0.7158, "o": 1}, {"x": 114.6, "y": 0.7130, "o": 2}, {"x": 106, "y": 0.7093, "o": 3}, {"x": 107, "y": 0.7009, "o": 4}]}, "mark": {"type": "line", "interpolate": "basis", "color": "#444444", "strokeWidth": 1}, "encoding": {"x": {"field": "x", "type": "quantitative", "axis": null}, "y": {"field": "y", "type": "quantitative", "title": null}, "order": {"field": "o"}}},
   {"data": {"name": "one"}, "mark": {"type": "point", "shape": "M-1,-1.2L0,0L1,-1.2", "filled": false, "color": "#111111", "strokeWidth": 1.8, "size": 70, "angle": 0, "opacity": 1}, "encoding": {"x": {"datum": 107, "axis": null}, "y": {"datum": 0.7009}}},
   {"data": {"values": [{"x": 95.5, "y": 0.6915, "o": 0}, {"x": 97.5, "y": 0.6938, "o": 1}, {"x": 107.5, "y": 0.6938, "o": 2}, {"x": 109.6, "y": 0.6954, "o": 3}, {"x": 111.7, "y": 0.6938, "o": 4}, {"x": 121.7, "y": 0.6938, "o": 5}, {"x": 123.7, "y": 0.6915, "o": 6}]}, "mark": {"type": "line", "color": "#333333", "strokeWidth": 1}, "encoding": {"x": {"field": "x", "type": "quantitative", "axis": null}, "y": {"field": "y", "type": "quantitative", "title": null}, "order": {"field": "o"}}}
  ]},
 {"width": 366, "height": 268,
  "layer": [
   {"data": {"name": "one"}, "mark": {"type": "rule", "color": "#8c8c8c", "strokeWidth": 1}, "encoding": {"x": {"datum": 1100}}},
   {"data": {"name": "aX"}, "transform": [{"fold": ["Mg", "prp", "grs", "sps"], "as": ["s", "v"]}], "mark": {"type": "line", "strokeWidth": 0.8, "invalid": "break-paths-filter-domains"},
    "encoding": {"x": {"field": "d", "type": "quantitative", "scale": {"domain": [-50, 1100], "nice": false, "zero": false},
      "axis": {"title": "Distance (micron)", "values": [0, 125, 250, 375, 500, 625, 750, 875, 1000], "format": "d", "labelExpr": "datum.value % 250 === 0 ? datum.label : ''", "titlePadding": 9}},
     "y": {"field": "v", "type": "quantitative", "scale": {"domain": [0, 0.2], "nice": false, "zero": false},
      "axis": {"title": null, "values": [0, 0.025, 0.05, 0.075, 0.1, 0.125, 0.15, 0.175, 0.2], "format": ".2f", "labelExpr": "abs(datum.value*20 - round(datum.value*20)) < 0.001 ? datum.label : ''"}},
     "stroke": {"field": "s", "type": "nominal", "scale": {"domain": ["Mg", "prp", "grs", "sps"], "range": ["#6e6e6e", "#e27b7b", "#66b866", "#7777bb"]}, "legend": null}}},
   {"data": {"name": "aX"}, "transform": [{"fold": ["Mg", "prp", "grs", "sps"], "as": ["s", "v"]}], "mark": {"type": "point", "filled": true, "opacity": 1},
    "encoding": {"x": {"field": "d", "type": "quantitative"}, "y": {"field": "v", "type": "quantitative"},
     "fill": {"field": "s", "type": "nominal", "scale": {"domain": ["Mg", "prp", "grs", "sps"], "range": ["#111111", "#c8141e", "#1f8f2f", "#1c1c7c"]}, "legend": null},
     "shape": {"field": "s", "type": "nominal", "scale": {"domain": ["Mg", "prp", "grs", "sps"], "range": ["square", "circle", "triangle-up", "triangle-down"]}, "legend": null},
     "size": {"field": "s", "type": "nominal", "scale": {"domain": ["Mg", "prp", "grs", "sps"], "range": [42, 50, 58, 58]}, "legend": null}}},
   {"data": {"name": "one"}, "mark": {"type": "rect", "filled": false, "color": "#4a4a4a", "strokeWidth": 1}, "encoding": {"x": {"datum": 484.2}, "x2": {"datum": 697.8}, "y": {"datum": 0.2291}, "y2": {"datum": 0.1679}}},
   {"data": {"name": "one"}, "mark": {"type": "rule", "color": "#6e6e6e", "strokeWidth": 0.8}, "encoding": {"x": {"datum": 496.7}, "x2": {"datum": 606.7}, "y": {"datum": 0.21716}}},
   {"data": {"name": "one"}, "mark": {"type": "rule", "color": "#e27b7b", "strokeWidth": 0.8}, "encoding": {"x": {"datum": 496.7}, "x2": {"datum": 606.7}, "y": {"datum": 0.20373}}},
   {"data": {"name": "one"}, "mark": {"type": "rule", "color": "#66b866", "strokeWidth": 0.8}, "encoding": {"x": {"datum": 496.7}, "x2": {"datum": 606.7}, "y": {"datum": 0.1903}}},
   {"data": {"name": "one"}, "mark": {"type": "rule", "color": "#7777bb", "strokeWidth": 0.8}, "encoding": {"x": {"datum": 496.7}, "x2": {"datum": 606.7}, "y": {"datum": 0.17687}}},
   {"data": {"name": "one"}, "mark": {"type": "point", "shape": "square", "filled": true, "color": "#111111", "size": 42, "opacity": 1}, "encoding": {"x": {"datum": 550.1}, "y": {"datum": 0.21716}}},
   {"data": {"name": "one"}, "mark": {"type": "point", "shape": "circle", "filled": true, "color": "#c8141e", "size": 50, "opacity": 1}, "encoding": {"x": {"datum": 550.1}, "y": {"datum": 0.20373}}},
   {"data": {"name": "one"}, "mark": {"type": "point", "shape": "triangle-up", "filled": true, "color": "#1f8f2f", "size": 58, "opacity": 1}, "encoding": {"x": {"datum": 550.1}, "y": {"datum": 0.1903}}},
   {"data": {"name": "one"}, "mark": {"type": "point", "shape": "triangle-down", "filled": true, "color": "#1c1c7c", "size": 58, "opacity": 1}, "encoding": {"x": {"datum": 550.1}, "y": {"datum": 0.17687}}},
   {"data": {"name": "one"}, "mark": {"type": "text", "text": "X", "align": "left", "baseline": "middle", "fontSize": 16, "color": "#1a1a1a"}, "encoding": {"x": {"datum": 619.3}, "y": {"datum": 0.21716}}},
   {"data": {"name": "one"}, "mark": {"type": "text", "text": "X", "align": "left", "baseline": "middle", "fontSize": 16, "color": "#1a1a1a"}, "encoding": {"x": {"datum": 619.3}, "y": {"datum": 0.20373}}},
   {"data": {"name": "one"}, "mark": {"type": "text", "text": "X", "align": "left", "baseline": "middle", "fontSize": 16, "color": "#1a1a1a"}, "encoding": {"x": {"datum": 619.3}, "y": {"datum": 0.1903}}},
   {"data": {"name": "one"}, "mark": {"type": "text", "text": "X", "align": "left", "baseline": "middle", "fontSize": 16, "color": "#1a1a1a"}, "encoding": {"x": {"datum": 619.3}, "y": {"datum": 0.17687}}},
   {"data": {"name": "one"}, "mark": {"type": "text", "text": "Mg", "align": "left", "baseline": "middle", "fontSize": 10, "dy": 6, "color": "#1a1a1a"}, "encoding": {"x": {"datum": 650}, "y": {"datum": 0.21716}}},
   {"data": {"name": "one"}, "mark": {"type": "text", "text": "prp", "align": "left", "baseline": "middle", "fontSize": 10, "dy": 6, "color": "#1a1a1a"}, "encoding": {"x": {"datum": 650}, "y": {"datum": 0.20373}}},
   {"data": {"name": "one"}, "mark": {"type": "text", "text": "grs", "align": "left", "baseline": "middle", "fontSize": 10, "dy": 6, "color": "#1a1a1a"}, "encoding": {"x": {"datum": 650}, "y": {"datum": 0.1903}}},
   {"data": {"name": "one"}, "mark": {"type": "text", "text": "sps", "align": "left", "baseline": "middle", "fontSize": 10, "dy": 6, "color": "#1a1a1a"}, "encoding": {"x": {"datum": 650}, "y": {"datum": 0.17687}}},
   {"data": {"name": "one"}, "mark": {"type": "text", "text": "X", "angle": 270, "align": "left", "baseline": "alphabetic", "fontSize": 14, "dx": 0, "dy": -40, "color": "#1a1a1a"}, "encoding": {"x": {"datum": -50}, "y": {"datum": 0.05343}}},
   {"data": {"name": "one"}, "mark": {"type": "text", "text": "Mg", "angle": 270, "align": "left", "baseline": "alphabetic", "fontSize": 8, "dx": 9.3, "dy": -37, "color": "#1a1a1a"}, "encoding": {"x": {"datum": -50}, "y": {"datum": 0.05343}}},
   {"data": {"name": "one"}, "mark": {"type": "text", "text": ", X", "angle": 270, "align": "left", "baseline": "alphabetic", "fontSize": 14, "dx": 20.4, "dy": -40, "color": "#1a1a1a"}, "encoding": {"x": {"datum": -50}, "y": {"datum": 0.05343}}},
   {"data": {"name": "one"}, "mark": {"type": "text", "text": "prp", "angle": 270, "align": "left", "baseline": "alphabetic", "fontSize": 8, "dx": 37.5, "dy": -37, "color": "#1a1a1a"}, "encoding": {"x": {"datum": -50}, "y": {"datum": 0.05343}}},
   {"data": {"name": "one"}, "mark": {"type": "text", "text": ", X", "angle": 270, "align": "left", "baseline": "alphabetic", "fontSize": 14, "dx": 49.1, "dy": -40, "color": "#1a1a1a"}, "encoding": {"x": {"datum": -50}, "y": {"datum": 0.05343}}},
   {"data": {"name": "one"}, "mark": {"type": "text", "text": "sps", "angle": 270, "align": "left", "baseline": "alphabetic", "fontSize": 8, "dx": 66.2, "dy": -37, "color": "#1a1a1a"}, "encoding": {"x": {"datum": -50}, "y": {"datum": 0.05343}}},
   {"data": {"name": "one"}, "mark": {"type": "text", "text": ", X", "angle": 270, "align": "left", "baseline": "alphabetic", "fontSize": 14, "dx": 78.6, "dy": -40, "color": "#1a1a1a"}, "encoding": {"x": {"datum": -50}, "y": {"datum": 0.05343}}},
   {"data": {"name": "one"}, "mark": {"type": "text", "text": "grs", "angle": 270, "align": "left", "baseline": "alphabetic", "fontSize": 8, "dx": 95.7, "dy": -37, "color": "#1a1a1a"}, "encoding": {"x": {"datum": -50}, "y": {"datum": 0.05343}}},
   {"data": {"name": "one"}, "mark": {"type": "text", "text": "Rim", "align": "center", "baseline": "middle", "fontSize": 15, "dy": 30.3, "color": "#1a1a1a"}, "encoding": {"x": {"datum": -34.3}, "y": {"datum": 0}}},
   {"data": {"name": "one"}, "mark": {"type": "text", "text": "Rim", "align": "center", "baseline": "middle", "fontSize": 15, "dy": 28, "color": "#1a1a1a"}, "encoding": {"x": {"datum": 1073.9}, "y": {"datum": 0}}}
  ]},
 {"width": 374, "height": 268,
  "layer": [
   {"data": {"name": "one"}, "mark": {"type": "rule", "color": "#2b2b2b", "strokeWidth": 1}, "encoding": {"x": {"datum": -50}, "x2": {"datum": 2250}, "y": {"datum": 0}}},
   {"data": {"name": "one"}, "mark": {"type": "rule", "color": "#8c8c8c", "strokeWidth": 1}, "encoding": {"x": {"datum": 2250}}},
   {"data": {"name": "bX"}, "transform": [{"fold": ["Mg", "prp", "grs", "sps"], "as": ["s", "v"]}], "mark": {"type": "line", "strokeWidth": 0.8, "invalid": "break-paths-filter-domains"},
    "encoding": {"x": {"field": "d", "type": "quantitative", "scale": {"domain": [-50, 2306.7], "nice": false, "zero": false},
      "axis": {"title": "Distance (micron)", "domain": false, "titleX": 182.5, "values": [0, 250, 500, 750, 1000, 1250, 1500, 1750, 2000, 2250], "format": "d", "labelExpr": "datum.value % 500 === 0 ? datum.label : ''", "titlePadding": 9}},
     "y": {"field": "v", "type": "quantitative", "scale": {"domain": [0, 0.2], "nice": false, "zero": false},
      "axis": {"title": null, "values": [0, 0.025, 0.05, 0.075, 0.1, 0.125, 0.15, 0.175, 0.2], "format": ".2f", "labelExpr": "abs(datum.value*20 - round(datum.value*20)) < 0.001 ? datum.label : ''"}},
     "stroke": {"field": "s", "type": "nominal", "scale": {"domain": ["Mg", "prp", "grs", "sps"], "range": ["#6e6e6e", "#e27b7b", "#66b866", "#7777bb"]}, "legend": null}}},
   {"data": {"name": "bX"}, "transform": [{"fold": ["Mg", "prp", "grs", "sps"], "as": ["s", "v"]}], "mark": {"type": "point", "filled": true, "opacity": 1},
    "encoding": {"x": {"field": "d", "type": "quantitative"}, "y": {"field": "v", "type": "quantitative"},
     "fill": {"field": "s", "type": "nominal", "scale": {"domain": ["Mg", "prp", "grs", "sps"], "range": ["#111111", "#c8141e", "#1f8f2f", "#1c1c7c"]}, "legend": null},
     "shape": {"field": "s", "type": "nominal", "scale": {"domain": ["Mg", "prp", "grs", "sps"], "range": ["square", "circle", "triangle-up", "triangle-down"]}, "legend": null},
     "size": {"field": "s", "type": "nominal", "scale": {"domain": ["Mg", "prp", "grs", "sps"], "range": [42, 50, 58, 58]}, "legend": null}}},
   {"data": {"name": "one"}, "mark": {"type": "rect", "filled": false, "color": "#4a4a4a", "strokeWidth": 1}, "encoding": {"x": {"datum": 890.8}, "x2": {"datum": 1321.8}, "y": {"datum": 0.21493}, "y2": {"datum": 0.15201}}},
   {"data": {"name": "one"}, "mark": {"type": "rule", "color": "#6e6e6e", "strokeWidth": 0.8}, "encoding": {"x": {"datum": 919.4}, "x2": {"datum": 1135.7}, "y": {"datum": 0.20201}}},
   {"data": {"name": "one"}, "mark": {"type": "rule", "color": "#e27b7b", "strokeWidth": 0.8}, "encoding": {"x": {"datum": 919.4}, "x2": {"datum": 1135.7}, "y": {"datum": 0.18881}}},
   {"data": {"name": "one"}, "mark": {"type": "rule", "color": "#66b866", "strokeWidth": 0.8}, "encoding": {"x": {"datum": 919.4}, "x2": {"datum": 1135.7}, "y": {"datum": 0.17515}}},
   {"data": {"name": "one"}, "mark": {"type": "rule", "color": "#7777bb", "strokeWidth": 0.8}, "encoding": {"x": {"datum": 919.4}, "x2": {"datum": 1135.7}, "y": {"datum": 0.16097}}},
   {"data": {"name": "one"}, "mark": {"type": "point", "shape": "square", "filled": true, "color": "#111111", "size": 42, "opacity": 1}, "encoding": {"x": {"datum": 1025.4}, "y": {"datum": 0.20201}}},
   {"data": {"name": "one"}, "mark": {"type": "point", "shape": "circle", "filled": true, "color": "#c8141e", "size": 50, "opacity": 1}, "encoding": {"x": {"datum": 1025.4}, "y": {"datum": 0.18881}}},
   {"data": {"name": "one"}, "mark": {"type": "point", "shape": "triangle-up", "filled": true, "color": "#1f8f2f", "size": 58, "opacity": 1}, "encoding": {"x": {"datum": 1025.4}, "y": {"datum": 0.17515}}},
   {"data": {"name": "one"}, "mark": {"type": "point", "shape": "triangle-down", "filled": true, "color": "#1c1c7c", "size": 58, "opacity": 1}, "encoding": {"x": {"datum": 1025.4}, "y": {"datum": 0.16097}}},
   {"data": {"name": "one"}, "mark": {"type": "text", "text": "X", "align": "left", "baseline": "middle", "fontSize": 16, "color": "#1a1a1a"}, "encoding": {"x": {"datum": 1151.4}, "y": {"datum": 0.20201}}},
   {"data": {"name": "one"}, "mark": {"type": "text", "text": "X", "align": "left", "baseline": "middle", "fontSize": 16, "color": "#1a1a1a"}, "encoding": {"x": {"datum": 1151.4}, "y": {"datum": 0.18881}}},
   {"data": {"name": "one"}, "mark": {"type": "text", "text": "X", "align": "left", "baseline": "middle", "fontSize": 16, "color": "#1a1a1a"}, "encoding": {"x": {"datum": 1151.4}, "y": {"datum": 0.17515}}},
   {"data": {"name": "one"}, "mark": {"type": "text", "text": "X", "align": "left", "baseline": "middle", "fontSize": 16, "color": "#1a1a1a"}, "encoding": {"x": {"datum": 1151.4}, "y": {"datum": 0.16097}}},
   {"data": {"name": "one"}, "mark": {"type": "text", "text": "Mg", "align": "left", "baseline": "middle", "fontSize": 10, "dy": 6, "color": "#1a1a1a"}, "encoding": {"x": {"datum": 1212}, "y": {"datum": 0.20201}}},
   {"data": {"name": "one"}, "mark": {"type": "text", "text": "prp", "align": "left", "baseline": "middle", "fontSize": 10, "dy": 6, "color": "#1a1a1a"}, "encoding": {"x": {"datum": 1212}, "y": {"datum": 0.18881}}},
   {"data": {"name": "one"}, "mark": {"type": "text", "text": "grs", "align": "left", "baseline": "middle", "fontSize": 10, "dy": 6, "color": "#1a1a1a"}, "encoding": {"x": {"datum": 1212}, "y": {"datum": 0.17515}}},
   {"data": {"name": "one"}, "mark": {"type": "text", "text": "sps", "align": "left", "baseline": "middle", "fontSize": 10, "dy": 6, "color": "#1a1a1a"}, "encoding": {"x": {"datum": 1212}, "y": {"datum": 0.16097}}},
   {"data": {"name": "one"}, "mark": {"type": "text", "text": "X", "angle": 270, "align": "left", "baseline": "alphabetic", "fontSize": 14, "dx": 0, "dy": -41, "color": "#1a1a1a"}, "encoding": {"x": {"datum": -50}, "y": {"datum": 0.05567}}},
   {"data": {"name": "one"}, "mark": {"type": "text", "text": "Mg", "angle": 270, "align": "left", "baseline": "alphabetic", "fontSize": 8, "dx": 9.3, "dy": -38, "color": "#1a1a1a"}, "encoding": {"x": {"datum": -50}, "y": {"datum": 0.05567}}},
   {"data": {"name": "one"}, "mark": {"type": "text", "text": ", X", "angle": 270, "align": "left", "baseline": "alphabetic", "fontSize": 14, "dx": 20.4, "dy": -41, "color": "#1a1a1a"}, "encoding": {"x": {"datum": -50}, "y": {"datum": 0.05567}}},
   {"data": {"name": "one"}, "mark": {"type": "text", "text": "prp", "angle": 270, "align": "left", "baseline": "alphabetic", "fontSize": 8, "dx": 37.5, "dy": -38, "color": "#1a1a1a"}, "encoding": {"x": {"datum": -50}, "y": {"datum": 0.05567}}},
   {"data": {"name": "one"}, "mark": {"type": "text", "text": ", X", "angle": 270, "align": "left", "baseline": "alphabetic", "fontSize": 14, "dx": 49.1, "dy": -41, "color": "#1a1a1a"}, "encoding": {"x": {"datum": -50}, "y": {"datum": 0.05567}}},
   {"data": {"name": "one"}, "mark": {"type": "text", "text": "sps", "angle": 270, "align": "left", "baseline": "alphabetic", "fontSize": 8, "dx": 66.2, "dy": -38, "color": "#1a1a1a"}, "encoding": {"x": {"datum": -50}, "y": {"datum": 0.05567}}},
   {"data": {"name": "one"}, "mark": {"type": "text", "text": ", X", "angle": 270, "align": "left", "baseline": "alphabetic", "fontSize": 14, "dx": 78.6, "dy": -41, "color": "#1a1a1a"}, "encoding": {"x": {"datum": -50}, "y": {"datum": 0.05567}}},
   {"data": {"name": "one"}, "mark": {"type": "text", "text": "grs", "angle": 270, "align": "left", "baseline": "alphabetic", "fontSize": 8, "dx": 95.7, "dy": -38, "color": "#1a1a1a"}, "encoding": {"x": {"datum": -50}, "y": {"datum": 0.05567}}},
   {"data": {"name": "one"}, "mark": {"type": "text", "text": "Rim", "align": "center", "baseline": "middle", "fontSize": 15, "dy": 31, "color": "#1a1a1a"}, "encoding": {"x": {"datum": -20.4}, "y": {"datum": 0}}},
   {"data": {"name": "one"}, "mark": {"type": "text", "text": "Rim", "align": "center", "baseline": "middle", "fontSize": 15, "dy": 29, "color": "#1a1a1a"}, "encoding": {"x": {"datum": 2194.6}, "y": {"datum": 0}}}
  ]},
 {"width": 369, "height": 272,
  "layer": [
   {"data": {"name": "one"}, "mark": {"type": "rule", "color": "#8c8c8c", "strokeWidth": 1}, "encoding": {"x": {"datum": 698}}},
   {"data": {"name": "one"}, "mark": {"type": "rule", "color": "#e05555", "strokeWidth": 1, "strokeDash": [1.5, 1.5]}, "encoding": {"x": {"datum": 95.5}}},
   {"data": {"name": "one"}, "mark": {"type": "rule", "color": "#e05555", "strokeWidth": 1, "strokeDash": [1.5, 1.5]}, "encoding": {"x": {"datum": 123.7}}},
   {"data": {"name": "cX"}, "transform": [{"fold": ["Mg", "prp", "grs", "sps", "Ti"], "as": ["s", "v"]}], "mark": {"type": "point", "filled": true, "opacity": 1},
    "encoding": {"x": {"field": "d", "type": "quantitative", "scale": {"domain": [-10, 698], "nice": false, "zero": false},
      "axis": {"title": "Distance (micron)", "values": [0, 100, 200, 300, 400, 500, 600], "format": "d", "labelExpr": "datum.value % 200 === 0 ? datum.label : ''", "labelFontSize": 13, "labelPadding": 3, "titlePadding": 8}},
     "y": {"field": "v", "type": "quantitative", "scale": {"domain": [-0.0043, 0.2], "nice": false, "zero": false},
      "axis": {"title": null, "values": [0, 0.025, 0.05, 0.075, 0.1, 0.125, 0.15, 0.175, 0.2], "format": ".2f", "labelExpr": "abs(datum.value*20 - round(datum.value*20)) < 0.001 ? datum.label : ''"}},
     "fill": {"field": "s", "type": "nominal", "scale": {"domain": ["Mg", "prp", "grs", "sps", "Ti"], "range": ["#111111", "#c8141e", "#1f8f2f", "#1c1c7c", "#1f8fe5"]}, "legend": null},
     "shape": {"field": "s", "type": "nominal", "scale": {"domain": ["Mg", "prp", "grs", "sps", "Ti"], "range": ["square", "circle", "triangle-up", "triangle-down", "diamond"]}, "legend": null},
     "size": {"field": "s", "type": "nominal", "scale": {"domain": ["Mg", "prp", "grs", "sps", "Ti"], "range": [42, 50, 58, 58, 55]}, "legend": null}}},
   {"data": {"name": "one"}, "mark": {"type": "rect", "filled": false, "color": "#4a4a4a", "strokeWidth": 1}, "encoding": {"x": {"datum": 274.5}, "x2": {"datum": 462}, "y": {"datum": 0.13045}, "y2": {"datum": 0.05159}}},
   {"data": {"name": "one"}, "mark": {"type": "point", "shape": "square", "filled": true, "color": "#111111", "size": 42, "opacity": 1}, "encoding": {"x": {"datum": 308.5}, "y": {"datum": 0.11791}}},
   {"data": {"name": "one"}, "mark": {"type": "point", "shape": "circle", "filled": true, "color": "#c8141e", "size": 50, "opacity": 1}, "encoding": {"x": {"datum": 308.5}, "y": {"datum": 0.10416}}},
   {"data": {"name": "one"}, "mark": {"type": "point", "shape": "triangle-up", "filled": true, "color": "#1f8f2f", "size": 58, "opacity": 1}, "encoding": {"x": {"datum": 308.5}, "y": {"datum": 0.09034}}},
   {"data": {"name": "one"}, "mark": {"type": "point", "shape": "triangle-down", "filled": true, "color": "#1c1c7c", "size": 58, "opacity": 1}, "encoding": {"x": {"datum": 308.5}, "y": {"datum": 0.0766}}},
   {"data": {"name": "one"}, "mark": {"type": "point", "shape": "diamond", "filled": true, "color": "#1f8fe5", "size": 55, "opacity": 1}, "encoding": {"x": {"datum": 308.5}, "y": {"datum": 0.06285}}},
   {"data": {"name": "one"}, "mark": {"type": "text", "text": "X", "align": "left", "baseline": "middle", "fontSize": 15, "color": "#1a1a1a"}, "encoding": {"x": {"datum": 351.3}, "y": {"datum": 0.11791}}},
   {"data": {"name": "one"}, "mark": {"type": "text", "text": "X", "align": "left", "baseline": "middle", "fontSize": 15, "color": "#1a1a1a"}, "encoding": {"x": {"datum": 351.3}, "y": {"datum": 0.10416}}},
   {"data": {"name": "one"}, "mark": {"type": "text", "text": "X", "align": "left", "baseline": "middle", "fontSize": 15, "color": "#1a1a1a"}, "encoding": {"x": {"datum": 351.3}, "y": {"datum": 0.09034}}},
   {"data": {"name": "one"}, "mark": {"type": "text", "text": "X", "align": "left", "baseline": "middle", "fontSize": 15, "color": "#1a1a1a"}, "encoding": {"x": {"datum": 351.3}, "y": {"datum": 0.0766}}},
   {"data": {"name": "one"}, "mark": {"type": "text", "text": "Mg", "align": "left", "baseline": "middle", "fontSize": 10, "dy": 6, "color": "#1a1a1a"}, "encoding": {"x": {"datum": 370}, "y": {"datum": 0.11791}}},
   {"data": {"name": "one"}, "mark": {"type": "text", "text": "prp", "align": "left", "baseline": "middle", "fontSize": 10, "dy": 6, "color": "#1a1a1a"}, "encoding": {"x": {"datum": 370}, "y": {"datum": 0.10416}}},
   {"data": {"name": "one"}, "mark": {"type": "text", "text": "grs", "align": "left", "baseline": "middle", "fontSize": 10, "dy": 6, "color": "#1a1a1a"}, "encoding": {"x": {"datum": 370}, "y": {"datum": 0.09034}}},
   {"data": {"name": "one"}, "mark": {"type": "text", "text": "sps", "align": "left", "baseline": "middle", "fontSize": 10, "dy": 6, "color": "#1a1a1a"}, "encoding": {"x": {"datum": 370}, "y": {"datum": 0.0766}}},
   {"data": {"name": "one"}, "mark": {"type": "text", "text": "Ti (apfu)", "align": "left", "baseline": "middle", "fontSize": 14, "color": "#1a1a1a"}, "encoding": {"x": {"datum": 355.1}, "y": {"datum": 0.06285}}},
   {"data": {"name": "one"}, "mark": {"type": "text", "text": "X", "angle": 270, "align": "left", "baseline": "alphabetic", "fontSize": 14, "dx": 0, "dy": -40.7, "color": "#1a1a1a"}, "encoding": {"x": {"datum": -10}, "y": {"datum": 0.02778}}},
   {"data": {"name": "one"}, "mark": {"type": "text", "text": "Mg", "angle": 270, "align": "left", "baseline": "alphabetic", "fontSize": 8, "dx": 9.3, "dy": -37.7, "color": "#1a1a1a"}, "encoding": {"x": {"datum": -10}, "y": {"datum": 0.02778}}},
   {"data": {"name": "one"}, "mark": {"type": "text", "text": ", X", "angle": 270, "align": "left", "baseline": "alphabetic", "fontSize": 14, "dx": 20.4, "dy": -40.7, "color": "#1a1a1a"}, "encoding": {"x": {"datum": -10}, "y": {"datum": 0.02778}}},
   {"data": {"name": "one"}, "mark": {"type": "text", "text": "prp", "angle": 270, "align": "left", "baseline": "alphabetic", "fontSize": 8, "dx": 37.5, "dy": -37.7, "color": "#1a1a1a"}, "encoding": {"x": {"datum": -10}, "y": {"datum": 0.02778}}},
   {"data": {"name": "one"}, "mark": {"type": "text", "text": ", X", "angle": 270, "align": "left", "baseline": "alphabetic", "fontSize": 14, "dx": 49.1, "dy": -40.7, "color": "#1a1a1a"}, "encoding": {"x": {"datum": -10}, "y": {"datum": 0.02778}}},
   {"data": {"name": "one"}, "mark": {"type": "text", "text": "sps", "angle": 270, "align": "left", "baseline": "alphabetic", "fontSize": 8, "dx": 66.2, "dy": -37.7, "color": "#1a1a1a"}, "encoding": {"x": {"datum": -10}, "y": {"datum": 0.02778}}},
   {"data": {"name": "one"}, "mark": {"type": "text", "text": ", X", "angle": 270, "align": "left", "baseline": "alphabetic", "fontSize": 14, "dx": 78.6, "dy": -40.7, "color": "#1a1a1a"}, "encoding": {"x": {"datum": -10}, "y": {"datum": 0.02778}}},
   {"data": {"name": "one"}, "mark": {"type": "text", "text": "grs", "angle": 270, "align": "left", "baseline": "alphabetic", "fontSize": 8, "dx": 95.7, "dy": -37.7, "color": "#1a1a1a"}, "encoding": {"x": {"datum": -10}, "y": {"datum": 0.02778}}},
   {"data": {"name": "one"}, "mark": {"type": "text", "text": ", Ti (apfu)", "angle": 270, "align": "left", "baseline": "alphabetic", "fontSize": 14, "dx": 106.8, "dy": -40.7, "color": "#1a1a1a"}, "encoding": {"x": {"datum": -10}, "y": {"datum": 0.02778}}},
   {"data": {"name": "one"}, "mark": {"type": "text", "text": "Rim", "align": "center", "baseline": "middle", "font": "Liberation Serif", "fontSize": 15, "dy": 37, "color": "#1a1a1a"}, "encoding": {"x": {"datum": 6}, "y": {"datum": 0}}},
   {"data": {"name": "one"}, "mark": {"type": "text", "text": "Rim", "align": "center", "baseline": "middle", "font": "Liberation Serif", "fontSize": 16, "dy": 34, "color": "#1a1a1a"}, "encoding": {"x": {"datum": 706.6}, "y": {"datum": 0}}}
  ]}
],
"columns": 3,
"spacing": {"row": 40, "column": 90},
"bounds": "flush",
"align": "each"
}
